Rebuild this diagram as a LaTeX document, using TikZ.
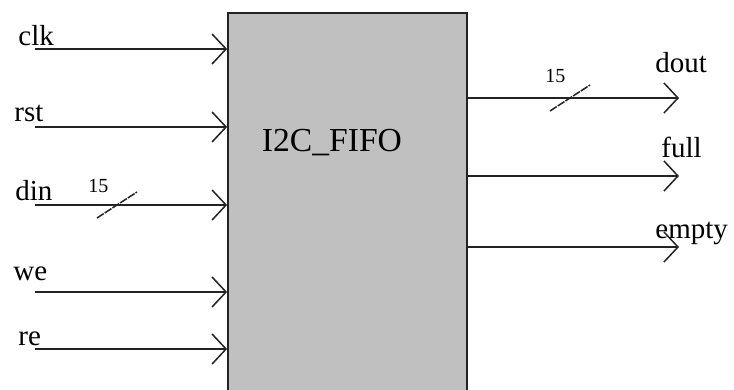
\documentclass[tikz,border=0pt]{standalone}
\usepackage{fontspec}
\setmainfont{Liberation Serif}
\usetikzlibrary{arrows.meta}
\definecolor{blkFill}{RGB}{192,192,192}
\definecolor{wireInk}{RGB}{35,35,35}

\begin{document}
\begin{tikzpicture}[x=0.5pt, y=-0.5pt,
  blk/.style={
    draw=wireInk, line width=0.9pt, fill=blkFill,
    minimum width=119.5pt, minimum height=195pt, inner sep=0pt
  },
  sig/.style={draw=wireInk, line width=0.75pt, -{Straight Barb[length=7pt, width=15pt]}},
  bus/.style={draw=wireInk, line width=0.75pt, dashed, dash pattern=on 4pt off 0.6pt},
  lbl/.style={font=\fontsize{14.5}{16}\selectfont, inner sep=0pt, text=black},
  buslbl/.style={font=\fontsize{10}{12}\selectfont, inner sep=0pt, text=black},
  title/.style={font=\fontsize{16.8}{19}\selectfont, inner sep=0pt, text=black},
]
\clip (0,0) rectangle (734,390);

%% Block
\node[blk] (fifo) at (347.5, 208) {};
\node[title] (fifo-name) at (332, 143) {I2C\_FIFO};

%% Inputs
\foreach \nm/\y/\lx/\ly in {clk/49/18/46, rst/127/14/122, din/205/15/200, we/292/13/280, re/349/18/345}{
  \coordinate (\nm) at (35,\y);
  \draw[sig] (\nm) -- (fifo.west |- \nm);
  \node[lbl, anchor=base west] (\nm-lbl) at (\lx,\ly) {\nm};
}

%% Outputs
\foreach \nm/\y/\lx/\ly in {dout/98/655/73, full/176/661/158, empty/247/655/238}{
  \coordinate (\nm) at (679,\y);
  \draw[sig] (fifo.east |- \nm) -- (\nm);
  \node[lbl, anchor=base west] (\nm-lbl) at (\lx,\ly) {\nm};
}

%% Bus widths
\coordinate (din-bus) at (117,205);
\draw[bus] ([shift={(-20,13)}]din-bus) -- ([shift={(20,-13)}]din-bus);
\node[buslbl, anchor=base west] (din-w) at (88,192) {15};

\coordinate (dout-bus) at (570,98);
\draw[bus] ([shift={(-20,13)}]dout-bus) -- ([shift={(20,-13)}]dout-bus);
\node[buslbl, anchor=base west] (dout-w) at (545,83) {15};

\end{tikzpicture}
\end{document}
